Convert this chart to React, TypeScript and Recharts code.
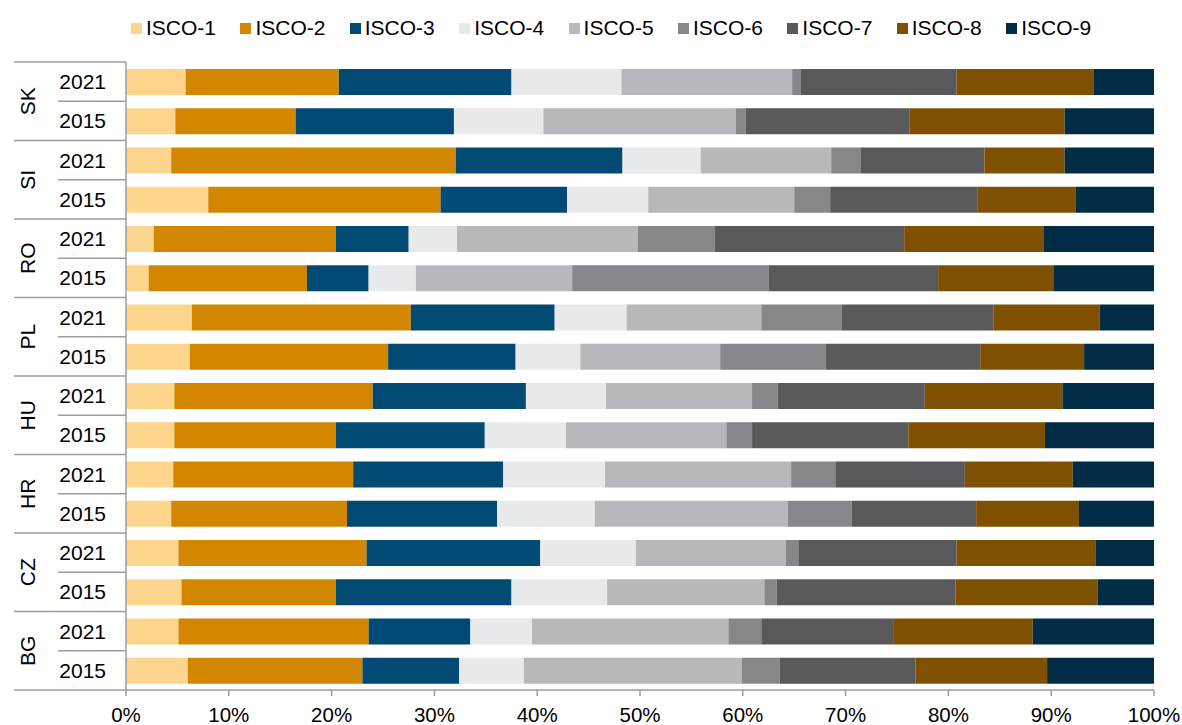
import { BarChart, Bar, XAxis, YAxis, Legend } from "recharts";

const countries = ["SK", "SI", "RO", "PL", "HU", "HR", "CZ", "BG"];
const years = ["2021", "2015"];
const xTicks = [0, 10, 20, 30, 40, 50, 60, 70, 80, 90, 100];

// shares in %, rows: SK21, SK15, SI21, SI15, RO21, RO15, PL21, PL15, HU21, HU15, HR21, HR15, CZ21, CZ15, BG21, BG15
const isco1 = [5.8, 4.8, 4.4, 8.0, 2.7, 2.2, 6.4, 6.2, 4.7, 4.7, 4.6, 4.4, 5.1, 5.4, 5.1, 6.0];
const isco2 = [14.9, 11.7, 27.7, 22.6, 17.7, 15.4, 21.3, 19.3, 19.3, 15.7, 17.5, 17.1, 18.3, 15.0, 18.5, 17.0];
const isco3 = [16.8, 15.4, 16.2, 12.3, 7.1, 6.0, 14.0, 12.4, 14.9, 14.5, 14.6, 14.6, 16.9, 17.1, 9.9, 9.4];
const isco4 = [10.7, 8.7, 7.6, 7.9, 4.7, 4.6, 7.0, 6.3, 7.8, 7.9, 9.9, 9.5, 9.3, 9.3, 6.0, 6.3];
const isco5 = [16.6, 18.7, 12.7, 14.2, 17.6, 15.2, 13.1, 13.6, 14.2, 15.6, 18.1, 18.8, 14.6, 15.3, 19.1, 21.2];
const isco6 = [0.8, 1.0, 2.9, 3.5, 7.5, 19.1, 7.8, 10.3, 2.5, 2.5, 4.3, 6.2, 1.2, 1.2, 3.2, 3.7];
const isco7 = [15.2, 15.9, 12.0, 14.3, 18.4, 16.5, 14.8, 15.0, 14.3, 15.2, 12.6, 12.1, 15.4, 17.4, 12.9, 13.2];
const isco8 = [13.3, 15.1, 7.8, 9.6, 13.6, 11.2, 10.3, 10.1, 13.4, 13.3, 10.5, 10.0, 13.5, 13.8, 13.5, 12.8];
const isco9 = [5.9, 8.7, 8.7, 7.6, 10.7, 9.8, 5.3, 6.8, 8.9, 10.6, 7.9, 7.3, 5.7, 5.5, 11.8, 10.4];

const seriesValues = [isco1, isco2, isco3, isco4, isco5, isco6, isco7, isco8, isco9];
const seriesNames = ["ISCO-1", "ISCO-2", "ISCO-3", "ISCO-4", "ISCO-5", "ISCO-6", "ISCO-7", "ISCO-8", "ISCO-9"];
const colors = ["#FED58C", "#D38600", "#004A73", "#E8E9EB", "#B7B8BB", "#87868A", "#59595B", "#7F5000", "#002C45"];

const rows = countries.flatMap((c, ci) =>
  years.map((y, yi) => {
    const i = ci * years.length + yi;
    const row: Record<string, string | number> = { key: `${c}-${y}`, country: c, year: y };
    seriesNames.forEach((n, si) => (row[n] = seriesValues[si][i]));
    return row;
  })
);

const W = 1182;
const H = 725;
const M = { top: 62, right: 28, bottom: 0, left: 0 };
const X_AXIS_H = 35;
const Y_AXIS_W = 126;
const band = (H - M.top - M.bottom - X_AXIS_H) / rows.length;
const font = "'Liberation Sans', Arial, sans-serif";
const lineColor = "#9c9c9c";

function YearTick(props: any) {
  const { y, index } = props;
  const row = rows[index];
  const axisX = Y_AXIS_W;
  const first = row.year === years[0];
  return (
    <g>
      <text x={106} y={y} textAnchor="end" dominantBaseline="central" fontSize={21} fontFamily={font} fill="#000">
        {row.year}
      </text>
      {index === 0 && <line x1={14} x2={axisX} y1={y - band / 2} y2={y - band / 2} stroke={lineColor} strokeWidth={1.5} />}
      <line x1={first ? 58 : 14} x2={axisX} y1={y + band / 2} y2={y + band / 2} stroke={lineColor} strokeWidth={1.5} />
      {first && (
        <text
          x={27}
          y={y + band / 2}
          transform={`rotate(-90 27 ${y + band / 2})`}
          textAnchor="middle"
          dominantBaseline="central"
          fontSize={21}
          fontFamily={font}
          fill="#000"
        >
          {row.country}
        </text>
      )}
    </g>
  );
}

function LegendBox() {
  return (
    <div style={{ display: "flex", paddingLeft: 131, fontFamily: font, fontSize: 21, color: "#000" }}>
      {seriesNames.map((n, i) => (
        <div key={n} style={{ width: 109.4, display: "flex", alignItems: "center" }}>
          <span style={{ width: 11, height: 11, background: colors[i], marginRight: 4, display: "inline-block" }} />
          <span>{n}</span>
        </div>
      ))}
    </div>
  );
}

export default function App() {
  return (
    <div style={{ position: "absolute", left: 0, top: 0, background: "#fff" }}>
      <BarChart width={W} height={H} data={rows} layout="vertical" margin={M} barSize={26}>
        <XAxis
          type="number"
          domain={[0, 100]}
          ticks={xTicks}
          tickFormatter={(v) => `${v}%`}
          height={X_AXIS_H}
          stroke={lineColor}
          strokeWidth={1.5}
          tickSize={6}
          tickMargin={11}
          tick={{ fill: "#000", fontSize: 20.5, fontFamily: font }}
          interval={0}
        />
        <YAxis
          type="category"
          dataKey="key"
          width={Y_AXIS_W}
          stroke={lineColor}
          strokeWidth={1.5}
          tickLine={false}
          interval={0}
          tick={<YearTick />}
        />
        <Legend verticalAlign="middle" wrapperStyle={{ top: 16, left: 0, width: W }} content={<LegendBox />} />
        {seriesNames.map((n, i) => (
          <Bar key={n} dataKey={n} stackId="a" fill={colors[i]} isAnimationActive={false} />
        ))}
      </BarChart>
    </div>
  );
}
